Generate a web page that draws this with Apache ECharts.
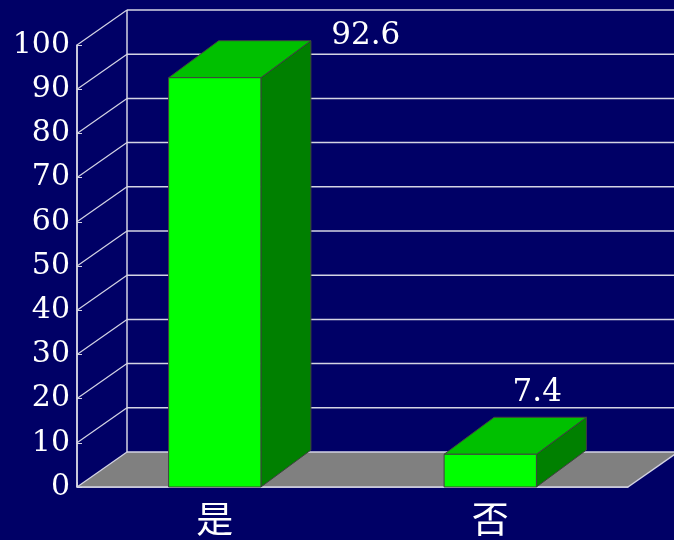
<!DOCTYPE html>
<html><head><meta charset="utf-8">
<script src="https://cdn.jsdelivr.net/npm/echarts@6/dist/echarts.min.js"></script>
<style>html,body{margin:0;padding:0;background:#000066}#c{width:674px;height:540px}</style>
</head><body><div id="c"></div>
<script>
const categories = ['是', '否'];
const values = [92.6, 7.4];
const yTicks = [0, 10, 20, 30, 40, 50, 60, 70, 80, 90, 100];

const chart = echarts.init(document.getElementById('c'), null, { renderer: 'canvas' });
const DX = 50, DY = -35;      // wall depth
const BDX = 50, BDY = -37;    // bar depth
const lineC = '#d4d4e4';
const labelShift = [[151, -42], [47, -61]];

function floorItem(params, api) {
  const cs = params.coordSys;
  const y0 = api.coord([0, 0])[1];
  const x0 = cs.x, x1 = cs.x + cs.width;
  return { type: 'group', children: [
    { type: 'polygon', shape: { points: [[x0, y0], [x1, y0], [x1 + DX, y0 + DY], [x0 + DX, y0 + DY]] }, style: { fill: '#808080' } },
    { type: 'line', shape: { x1: x0, y1: y0, x2: x1, y2: y0 }, style: { stroke: lineC, lineWidth: 1.5 } },
    { type: 'line', shape: { x1: x1, y1: y0, x2: x1 + DX, y2: y0 + DY }, style: { stroke: lineC, lineWidth: 1.5 } },
    { type: 'line', shape: { x1: x0 + DX, y1: y0 + DY, x2: x0 + DX, y2: cs.y + DY }, style: { stroke: lineC, lineWidth: 1.5 } },
    { type: 'line', shape: { x1: x0, y1: y0, x2: x0, y2: cs.y }, style: { stroke: lineC, lineWidth: 1.5 } }
  ]};
}

function gridItem(params, api) {
  const cs = params.coordSys;
  const y = api.coord([0, api.value(1)])[1];
  const x0 = cs.x, x1 = cs.x + cs.width;
  return { type: 'group', children: [
    { type: 'line', shape: { x1: x0, y1: y, x2: x0 + DX, y2: y + DY }, style: { stroke: lineC, lineWidth: 1.2 } },
    { type: 'line', shape: { x1: x0 + DX, y1: y + DY, x2: x1 + DX + 10, y2: y + DY }, style: { stroke: lineC, lineWidth: 1.5 } }
  ]};
}

function barItem(params, api) {
  const i = api.value(0), v = api.value(1);
  const base = api.coord([i, 0]);
  const top = api.coord([i, v]);
  const w = api.size([1, 0])[0] * 0.335;
  const xl = base[0] - w / 2, xr = base[0] + w / 2;
  const yb = base[1], yt = top[1];
  const edge = { stroke: '#404040', lineWidth: 1 };
  const sh = labelShift[params.dataIndex];
  return { type: 'group', children: [
    { type: 'polygon', shape: { points: [[xr, yb], [xr + BDX, yb + BDY], [xr + BDX, yt + BDY], [xr, yt]] }, style: Object.assign({ fill: '#008000' }, edge) },
    { type: 'polygon', shape: { points: [[xl, yt], [xr, yt], [xr + BDX, yt + BDY], [xl + BDX, yt + BDY]] }, style: Object.assign({ fill: '#00c000' }, edge) },
    { type: 'rect', shape: { x: xl, y: yt, width: w, height: yb - yt }, style: Object.assign({ fill: '#00ff00' }, edge) },
    { type: 'text', x: base[0] + sh[0], y: yt + sh[1], style: { text: String(v), fill: '#ffffff', font: '31px "DejaVu Serif"', align: 'center', verticalAlign: 'middle' } }
  ]};
}

const option = {
  backgroundColor: '#000066',
  animation: false,
  grid: { left: 77, right: 46, top: 45, bottom: 53 },
  xAxis: {
    type: 'category', data: categories,
    axisLine: { lineStyle: { color: lineC, width: 1.5 } },
    axisTick: { show: true, inside: true, length: 5, lineStyle: { color: lineC } },
    axisLabel: { color: '#ffffff', fontFamily: 'Noto Sans CJK SC', fontSize: 37, margin: 13 }
  },
  yAxis: {
    type: 'value', min: 0, max: 100, interval: 10,
    axisLine: { show: true, lineStyle: { color: lineC, width: 1.5 } },
    axisTick: { show: true, inside: true, length: 5, lineStyle: { color: lineC } },
    splitLine: { show: false },
    axisLabel: { color: '#ffffff', fontFamily: 'DejaVu Serif', fontSize: 30, margin: 7, padding: [16, 0, 0, 0] }
  },
  series: [
    { type: 'custom', z: 1, clip: false, data: [[0, 0]], renderItem: floorItem, silent: true },
    { type: 'custom', z: 2, clip: false, data: yTicks.map(v => [0, v]), renderItem: gridItem, silent: true },
    { type: 'custom', z: 3, clip: false, data: values.map((v, i) => [i, v]), renderItem: barItem }
  ]
};
chart.setOption(option);
</script>
</body></html>
